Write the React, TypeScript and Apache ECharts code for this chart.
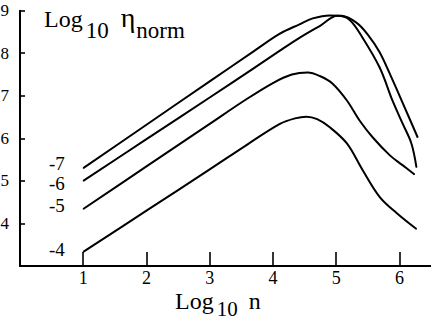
import React, { useEffect, useRef } from "react";
import * as echarts from "echarts";

// Curve labels (log10 of concentration)
const seriesNames = ["-7", "-6", "-5", "-4"];

// [log10 n, log10 eta_norm]
const curveM7 = [
  [1, 5.3], [2, 6.32], [3, 7.34], [3.7, 8.05], [4.11, 8.46], [4.42, 8.68],
  [4.63, 8.82], [4.9, 8.89], [5.09, 8.88], [5.32, 8.72], [5.5, 8.44],
  [5.69, 8.02], [5.89, 7.38], [6.05, 6.84], [6.29, 6.02],
];
const curveM6 = [
  [1, 5.0], [2, 5.98], [3, 6.96], [3.7, 7.65], [4.11, 8.06], [4.42, 8.36],
  [4.74, 8.64], [5.02, 8.88], [5.21, 8.79], [5.42, 8.36], [5.69, 7.66],
  [5.89, 6.89], [6.05, 6.35], [6.19, 5.88], [6.27, 5.32],
];
const curveM5 = [
  [1, 4.34], [2, 5.34], [3, 6.34], [3.55, 6.89], [4.0, 7.3], [4.3, 7.5],
  [4.55, 7.55], [4.75, 7.46], [4.94, 7.29], [5.17, 6.89], [5.37, 6.42],
  [5.58, 6.02], [5.85, 5.6], [6.05, 5.37], [6.24, 5.15],
];
const curveM4 = [
  [1, 3.33], [2, 4.3], [3, 5.27], [3.6, 5.86], [4.11, 6.34], [4.35, 6.47],
  [4.53, 6.51], [4.7, 6.45], [4.9, 6.26], [5.17, 5.88], [5.42, 5.25],
  [5.69, 4.62], [5.96, 4.24], [6.27, 3.87],
];
const curves = [curveM7, curveM6, curveM5, curveM4];

const xMin = 0;
const xMax = 6.5;
const yMin = 3;
const yMax = 9;

const FONT = "Liberation Serif";
const labelOffsets = [-5, 3, -3, -2];

export default function App() {
  const ref = useRef<HTMLDivElement>(null);

  useEffect(() => {
    document.body.style.margin = "0";
    if (!ref.current) return;
    const chart = echarts.init(ref.current, undefined, { renderer: "svg" });

    const series = curves.map((pts, i) => ({
      type: "line",
      name: seriesNames[i],
      smooth: 0.35,
      symbol: "circle",
      symbolSize: 1,
      showSymbol: true,
      itemStyle: { color: "#000" },
      lineStyle: { color: "#000", width: 2 },
      emphasis: { disabled: true },
      data: pts.map((p, j) =>
        j === 0
          ? {
              value: p,
              label: {
                show: true,
                position: "left",
                distance: 18,
                offset: [0, labelOffsets[i]],
                formatter: seriesNames[i],
                color: "#000",
                fontSize: 19,
                lineHeight: 16,
                fontFamily: FONT,
              },
            }
          : { value: p }
      ),
    }));

    const rich = (subShift: number, subSize: number) => ({
      a: { fontSize: 24, fontFamily: FONT, color: "#000", padding: [0, 0, subShift, 0], verticalAlign: "bottom" },
      b: { fontSize: subSize, fontFamily: FONT, color: "#000", padding: [0, 3, 0, 3], verticalAlign: "bottom" },
      c: { fontSize: 28, fontFamily: FONT, color: "#000", padding: [0, 1, subShift, 9], verticalAlign: "bottom" },
      n: { fontSize: 23, fontFamily: FONT, color: "#000", verticalAlign: "bottom" },
      d: { fontSize: 24, fontFamily: FONT, color: "#000", padding: [0, 0, subShift, 8], verticalAlign: "bottom" },
    });

    chart.setOption({
      animation: false,
      backgroundColor: "#fff",
      textStyle: { fontFamily: FONT },
      grid: { left: 20, right: 0, top: 10.7, bottom: 55, outerBoundsMode: "none" },
      xAxis: {
        type: "value",
        min: xMin,
        max: xMax,
        interval: 1,
        axisLine: { show: true, lineStyle: { color: "#000", width: 2 } },
        axisTick: { show: true, inside: true, length: 14, lineStyle: { color: "#000", width: 1.6 } },
        axisLabel: {
          color: "#000",
          fontSize: 18,
          fontFamily: FONT,
          margin: 3,
          showMaxLabel: false,
          formatter: (v: number) => (v === 0 || v % 1 !== 0 ? "" : String(v)),
        },
        splitLine: { show: false },
      },
      yAxis: {
        type: "value",
        min: yMin,
        max: yMax,
        interval: 1,
        axisLine: { show: true, lineStyle: { color: "#000", width: 2 } },
        axisTick: { show: true, inside: true, length: 5, lineStyle: { color: "#000", width: 1.6 } },
        axisLabel: {
          color: "#000",
          fontSize: 17,
          fontFamily: FONT,
          margin: 11,
          formatter: (v: number) => (v === yMin ? "" : String(v)),
        },
        splitLine: { show: false },
      },
      graphic: [
        {
          type: "text",
          left: 44,
          top: 3,
          style: {
            text: "{a|Log}{b|10}{c|η}{n|norm}",
            rich: rich(11, 23),
          },
        },
        {
          type: "text",
          left: 175,
          top: 289,
          style: {
            text: "{a|Log}{b|10}{d|n}",
            rich: rich(6, 21),
          },
        },
      ],
      series,
    });

    return () => chart.dispose();
  }, []);

  return (
    <div
      ref={ref}
      style={{ position: "absolute", left: 0, top: 0, width: 431, height: 321 }}
    />
  );
}
